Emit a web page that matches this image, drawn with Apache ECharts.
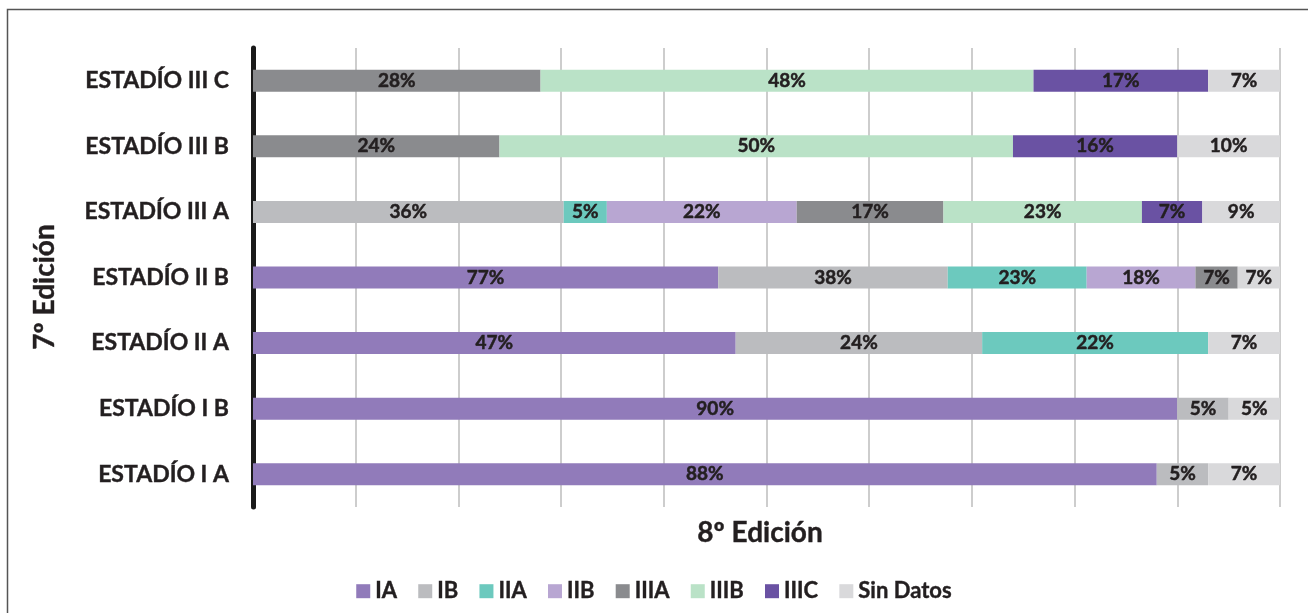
<!DOCTYPE html>
<html>
<head>
<meta charset="utf-8">
<script src="https://cdn.jsdelivr.net/npm/echarts@6/dist/echarts.min.js"></script>
<style>
  html, body { margin: 0; padding: 0; background: #ffffff; }
  #chart { width: 1308px; height: 613px; }
</style>
</head>
<body>
<div id="chart"></div>
<script>
// Stages under the 7th edition (bottom to top)
const categories = ['ESTADÍO I A', 'ESTADÍO I B', 'ESTADÍO II A', 'ESTADÍO II B',
                    'ESTADÍO III A', 'ESTADÍO III B', 'ESTADÍO III C'];

// Reclassification under the 8th edition, percent per 7th-edition stage
const seriesNames = ['IA', 'IB', 'IIA', 'IIB', 'IIIA', 'IIIB', 'IIIC', 'Sin Datos'];
const valIA    = [88, 90, 47, 77, null, null, null];
const valIB    = [5, 5, 24, 38, 36, null, null];
const valIIA   = [null, null, 22, 23, 5, null, null];
const valIIB   = [null, null, null, 18, 22, null, null];
const valIIIA  = [null, null, null, 7, 17, 24, 28];
const valIIIB  = [null, null, null, null, 23, 50, 48];
const valIIIC  = [null, null, null, null, 7, 16, 17];
const valSinDatos = [7, 5, 7, 7, 9, 10, 7];

const seriesValues = [valIA, valIB, valIIA, valIIB, valIIIA, valIIIB, valIIIC, valSinDatos];
const colors = ['#917bba', '#bbbcbf', '#6cc9be', '#b8a6d2', '#8a8b8e', '#bae2c7', '#6a52a3', '#d9d9db'];

// Each row is drawn as a 100% stacked bar: share of the row total
const rowTotals = categories.map((_, i) =>
  seriesValues.reduce((s, arr) => s + (arr[i] || 0), 0));

const FONT = 'Lato';
const TEXT = '#231f20';

const series = seriesNames.map((name, k) => ({
  name: name,
  type: 'bar',
  stack: 'total',
  barWidth: 22,
  itemStyle: { color: colors[k] },
  label: {
    show: true,
    position: 'inside',
    color: TEXT,
    fontFamily: FONT,
    fontWeight: 'bold',
    fontSize: 19,
    textBorderColor: TEXT,
    textBorderWidth: 0.5,
    formatter: p => p.data.raw + '%'
  },
  data: seriesValues[k].map((v, i) =>
    v == null ? null : { value: v / rowTotals[i] * 100, raw: v })
}));

const chart = echarts.init(document.getElementById('chart'));
chart.setOption({
  animation: false,
  backgroundColor: '#ffffff',
  color: colors,
  grid: { left: 253, right: 28, top: 48, bottom: 106, containLabel: false },
  xAxis: {
    type: 'value',
    min: 0,
    max: 100,
    interval: 10,
    axisLine: { show: false },
    axisTick: { show: false },
    axisLabel: { show: false },
    splitLine: { show: true, lineStyle: { color: '#bdbdbd', width: 1.5 } }
  },
  yAxis: {
    type: 'category',
    data: categories,
    axisLine: { show: true, lineStyle: { color: '#1a1a1a', width: 5 } },
    axisTick: { show: false },
    axisLabel: { color: TEXT, fontFamily: FONT, fontWeight: 'bold', fontSize: 23, margin: 24,
                 textBorderColor: TEXT, textBorderWidth: 0.4 },
    splitLine: { show: false }
  },
  legend: {
    data: seriesNames,
    left: 'center',
    top: 575,
    icon: 'rect',
    itemWidth: 14,
    itemHeight: 14,
    itemGap: 21,
    textStyle: { color: TEXT, fontFamily: FONT, fontWeight: 'bold', fontSize: 22,
                 textBorderColor: TEXT, textBorderWidth: 0.4 }
  },
  graphic: [
    {
      type: 'rect',
      shape: { x: 7.5, y: 9.5, width: 1400, height: 700 },
      style: { fill: 'none', stroke: '#555555', lineWidth: 1.5 },
      silent: true
    },
    {
      // 8th edition axis title
      type: 'text',
      x: 760, y: 533,
      style: { text: '8º Edición', fill: TEXT, font: 'bold 28px Lato',
               stroke: TEXT, lineWidth: 0.4,
               textAlign: 'center', textVerticalAlign: 'middle' },
      silent: true
    },
    {
      // 7th edition axis title
      type: 'text',
      x: 45, y: 287,
      rotation: Math.PI / 2,
      style: { text: '7º Edición', fill: TEXT, font: 'bold 28px Lato',
               stroke: TEXT, lineWidth: 0.4,
               textAlign: 'center', textVerticalAlign: 'middle' },
      silent: true
    }
  ],
  series: series
});
</script>
</body>
</html>
